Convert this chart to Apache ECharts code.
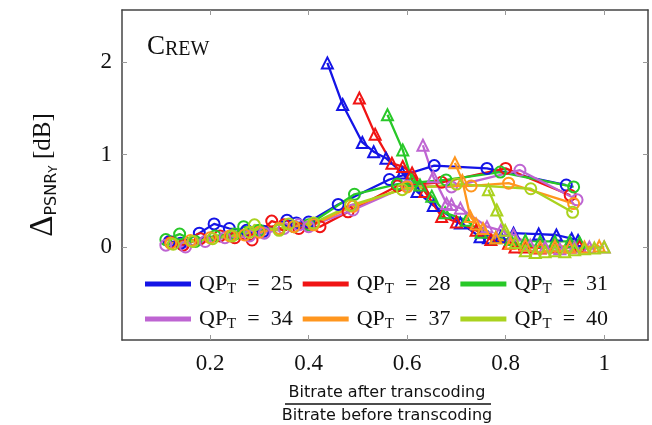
<!DOCTYPE html>
<html>
<head>
<meta charset="utf-8">
<script src="https://cdn.jsdelivr.net/npm/echarts@6/dist/echarts.min.js"></script>
<style>html,body{margin:0;padding:0;background:#fff}#main{width:652px;height:425px}</style>
</head>
<body>
<div id="main"></div>
<script>
// QP_T values and colours
const qpValues = ['25', '28', '31', '34', '37', '40']
const qpColors = ['#1414e6', '#f01414', '#28c828', '#be64d2', '#ff961e', '#aad21e']
const xTicks = [0.2, 0.4, 0.6, 0.8, 1]
const yTicks = [0, 1, 2]

// circle curves [ratio, deltaPSNR]
const circles25 = [[0.117,0.06],[0.14,0.04],[0.178,0.15],[0.208,0.25],[0.239,0.20],[0.274,0.18],[0.308,0.17],[0.356,0.29],[0.375,0.26],[0.40,0.27],[0.46,0.46],[0.564,0.73],[0.655,0.88],[0.762,0.85],[0.923,0.67]]
const circles28 = [[0.12,0.05],[0.145,0.02],[0.18,0.09],[0.22,0.12],[0.25,0.10],[0.285,0.076],[0.325,0.28],[0.35,0.24],[0.38,0.2],[0.423,0.22],[0.48,0.38],[0.58,0.66],[0.67,0.70],[0.80,0.85],[0.931,0.56]]
const circles31 = [[0.11,0.08],[0.138,0.14],[0.17,0.06],[0.21,0.12],[0.25,0.14],[0.268,0.22],[0.30,0.18],[0.34,0.2],[0.37,0.22],[0.40,0.24],[0.493,0.57],[0.58,0.68],[0.679,0.725],[0.789,0.81],[0.938,0.65]]
const circles34 = [[0.11,0.02],[0.15,0.0],[0.19,0.06],[0.23,0.1],[0.28,0.12],[0.31,0.15],[0.35,0.2],[0.38,0.24],[0.40,0.22],[0.49,0.40],[0.60,0.66],[0.69,0.65],[0.829,0.83],[0.945,0.51]]
const circles37 = [[0.12,0.04],[0.16,0.07],[0.2,0.1],[0.24,0.12],[0.27,0.13],[0.30,0.16],[0.34,0.2],[0.37,0.22],[0.41,0.24],[0.49,0.44],[0.6,0.65],[0.73,0.66],[0.806,0.69],[0.938,0.47]]
const circles40 = [[0.125,0.03],[0.165,0.06],[0.205,0.09],[0.245,0.12],[0.28,0.16],[0.29,0.24],[0.34,0.18],[0.36,0.25],[0.41,0.26],[0.485,0.45],[0.59,0.62],[0.7,0.68],[0.851,0.63],[0.936,0.375]]

// triangle curves [ratio, deltaPSNR]
const triangles25 = [[0.438,1.99],[0.469,1.54],[0.509,1.13],[0.532,1.03],[0.557,0.96],[0.59,0.8],[0.62,0.6],[0.653,0.45],[0.708,0.26],[0.748,0.11],[0.765,0.1],[0.79,0.11],[0.816,0.15],[0.867,0.14],[0.903,0.13],[0.934,0.09],[0.947,0.07]]
const triangles28 = [[0.503,1.61],[0.535,1.22],[0.569,0.905],[0.591,0.87],[0.61,0.80],[0.636,0.6],[0.67,0.33],[0.70,0.27],[0.74,0.18],[0.77,0.08],[0.806,0.04],[0.819,0.0],[0.84,0.0],[0.87,-0.01],[0.9,0.0],[0.93,0.0],[0.95,0.01]]
const triangles31 = [[0.56,1.43],[0.591,1.05],[0.61,0.72],[0.626,0.67],[0.65,0.55],[0.677,0.37],[0.72,0.29],[0.75,0.16],[0.78,0.1],[0.81,0.08],[0.84,0.07],[0.87,0.06],[0.9,0.06],[0.93,0.06],[0.95,0.05]]
const triangles34 = [[0.632,1.10],[0.653,0.76],[0.68,0.47],[0.69,0.46],[0.708,0.42],[0.762,0.22],[0.79,0.18],[0.816,0.13],[0.85,0.02],[0.88,0.0],[0.91,-0.02],[0.94,0.0],[0.97,0.0],[1.0,0.0]]
const triangles37 = [[0.697,0.91],[0.712,0.72],[0.728,0.33],[0.74,0.25],[0.754,0.2],[0.78,0.1],[0.81,0.04],[0.84,0.02],[0.87,0.0],[0.9,0.01],[0.93,0.0],[0.96,0.0],[0.99,0.01]]
const triangles40 = [[0.765,0.62],[0.782,0.4],[0.799,0.18],[0.82,0.05],[0.84,-0.04],[0.86,-0.06],[0.88,-0.05],[0.9,-0.04],[0.92,-0.05],[0.94,-0.03],[0.96,-0.02],[0.98,-0.01],[1.0,0.0]]

const circleSets = [circles25, circles28, circles31, circles34, circles37, circles40]
const triangleSets = [triangles25, triangles28, triangles31, triangles34, triangles37, triangles40]

const serif = 'Liberation Serif'
const sans = 'DejaVu Sans'
const nameOf = q => 'QP_T = ' + q

const series = []
qpValues.forEach((q, i) => {
    const c = qpColors[i]
    ;[[circleSets[i], 'circle'], [triangleSets[i], 'triangle']].forEach(([data, sym]) => {
        series.push({
            type: 'line',
            name: nameOf(q),
            data: data,
            symbol: sym,
            symbolSize: 11,
            showAllSymbol: true,
            itemStyle: { color: 'rgba(0,0,0,0)', borderColor: c, borderWidth: 2 },
            lineStyle: { color: c, width: 2.3 },
            emphasis: { disabled: true },
            animation: false
        })
    })
})

const legendRich = {
    m: { fontFamily: serif, fontSize: 22, color: '#111' },
    s: { fontFamily: serif, fontSize: 15, color: '#111', verticalAlign: 'bottom', padding: [10, 0, 0, 0] }
}
const makeLegend = (qs, top) => ({
    top: top, left: 140,
    orient: 'horizontal',
    icon: 'rect', itemWidth: 44, itemHeight: 3, itemGap: 10,
    data: qs.map(q => ({ name: nameOf(q), itemStyle: { color: qpColors[qpValues.indexOf(q)] } })),
    formatter: n => '{m|QP}{s|T}{m|  =  ' + n.split('= ')[1] + '}',
    textStyle: { rich: legendRich, padding: [0, 0, 0, 4] },
    selectedMode: false
})

const axisLineStyle = { color: '#444', width: 1.5 }
const tickStyle = { color: '#999', width: 1 }

const option = {
    backgroundColor: '#fff',
    animation: false,
    grid: { left: 122, right: 4, top: 10, bottom: 85 },
    title: {
        text: '{b|C}{s|REW}',
        left: 142, top: 28,
        textStyle: { fontWeight: 'normal', rich: {
            b: { fontFamily: serif, fontSize: 27, color: '#111', fontWeight: 'normal' },
            s: { fontFamily: serif, fontSize: 20, color: '#111', fontWeight: 'normal', verticalAlign: 'bottom' }
        } }
    },
    legend: [makeLegend(qpValues.slice(0, 3), 268), makeLegend(qpValues.slice(3), 303)],
    xAxis: [{
        type: 'value', min: 0.021, max: 1.089, position: 'bottom',
        splitLine: { show: false },
        axisLine: { onZero: false, lineStyle: axisLineStyle },
        axisTick: { inside: true, length: 5, lineStyle: tickStyle, customValues: xTicks },
        axisLabel: { customValues: xTicks, fontFamily: serif, fontSize: 23, color: '#111', margin: 12 }
    }, {
        type: 'value', min: 0.021, max: 1.089, position: 'top',
        splitLine: { show: false },
        axisLine: { onZero: false, lineStyle: axisLineStyle },
        axisTick: { inside: true, length: 5, lineStyle: tickStyle, customValues: xTicks },
        axisLabel: { show: false }
    }],
    yAxis: [{
        type: 'value', min: -1.005, max: 2.562, position: 'left',
        splitLine: { show: false },
        axisLine: { show: true, onZero: false, lineStyle: axisLineStyle },
        axisTick: { show: true, inside: true, length: 5, lineStyle: tickStyle, customValues: yTicks },
        axisLabel: { customValues: yTicks, fontFamily: serif, fontSize: 23, color: '#111', margin: 10 },
        name: '{d|Δ}{p|PSNR}{y|Y}{b| [dB]}',
        nameLocation: 'middle', nameRotate: 90, nameGap: 62,
        nameTextStyle: { rich: {
            d: { fontFamily: serif, fontSize: 33, color: '#111' },
            p: { fontFamily: sans, fontSize: 16, color: '#111', verticalAlign: 'bottom', padding: [9, 0, 0, 0] },
            y: { fontFamily: sans, fontSize: 12, color: '#111', verticalAlign: 'bottom', padding: [11, 0, 0, 0] },
            b: { fontFamily: serif, fontSize: 25, color: '#111' }
        } }
    }, {
        type: 'value', min: -1.005, max: 2.562, position: 'right',
        splitLine: { show: false },
        axisLine: { show: true, onZero: false, lineStyle: axisLineStyle },
        axisTick: { show: true, inside: true, length: 5, lineStyle: tickStyle, customValues: yTicks },
        axisLabel: { show: false }
    }],
    graphic: [
        { type: 'text', style: { text: 'Bitrate after transcoding', x: 387, y: 385, textAlign: 'center', font: '16px "DejaVu Sans"', fill: '#111' } },
        { type: 'line', shape: { x1: 285, y1: 404, x2: 491, y2: 404 }, style: { stroke: '#111', lineWidth: 1.5 } },
        { type: 'text', style: { text: 'Bitrate before transcoding', x: 387, y: 408, textAlign: 'center', font: '16px "DejaVu Sans"', fill: '#111' } }
    ],
    series: series
}

const chart = echarts.init(document.getElementById('main'), null, { renderer: 'canvas' })
chart.setOption(option)
</script>
</body>
</html>
